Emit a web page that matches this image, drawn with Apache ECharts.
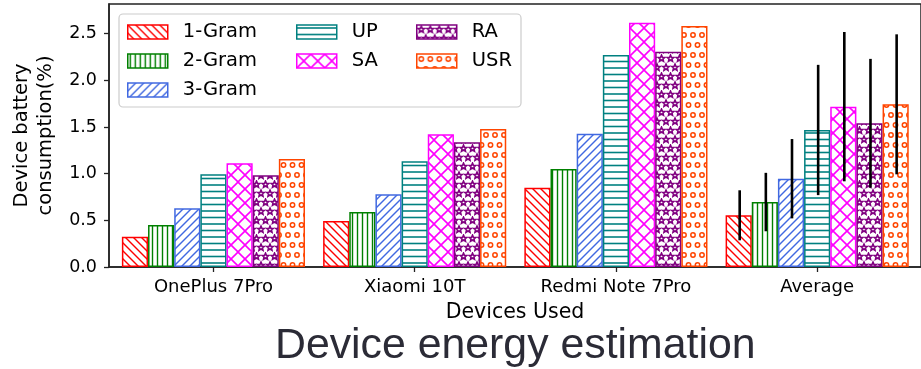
<!DOCTYPE html>
<html>
<head>
<meta charset="utf-8">
<script src="https://cdn.jsdelivr.net/npm/echarts@6/dist/echarts.min.js"></script>
<style>
  html, body { margin: 0; padding: 0; background: #fff; }
  #chart { width: 921px; height: 369px; }
</style>
</head>
<body>
<div id="chart"></div>
<script>
// Categories and methods
const devices = ['OnePlus 7Pro', 'Xiaomi 10T', 'Redmi Note 7Pro', 'Average'];
const methods = ['1-Gram', '2-Gram', '3-Gram', 'UP', 'SA', 'RA', 'USR'];

// Battery consumption (%) per device, last entry is the average
const gram1 = [0.325, 0.493, 0.85, 0.554];
const gram2 = [0.45, 0.589, 1.05, 0.696];
const gram3 = [0.629, 0.779, 1.428, 0.946];
const up    = [0.993, 1.132, 2.271, 1.468];
const sa    = [1.111, 1.422, 2.618, 1.718];
const ra    = [0.982, 1.336, 2.307, 1.54];
const usr   = [1.157, 1.479, 2.582, 1.743];

// Error bar half-lengths on the Average group, one per method
const avgErr = [0.268, 0.313, 0.425, 0.698, 0.80, 0.69, 0.75];

// Y tick labels
const yTicks = [0, 0.5, 1.0, 1.5, 2.0, 2.5];

const seriesValues = [gram1, gram2, gram3, up, sa, ra, usr];
const colors = ['#ff0000', '#008000', '#4169e1', '#008080', '#ff00ff', '#800080', '#ff4500'];
const FONT = 'DejaVu Sans';
const BAR_FRAC = 0.13;          // bar width as a fraction of the category step
const avgIndex = devices.length - 1;

// ---- hatch tiles -------------------------------------------------------
function tile(w, h, draw) {
  const c = document.createElement('canvas');
  c.width = w; c.height = h;
  const g = c.getContext('2d');
  g.fillStyle = '#fff';
  g.fillRect(0, 0, w, h);
  draw(g, w, h);
  return c;
}
function diag(g, w, h, back) {
  // one diagonal direction, including the wrap-around pieces
  for (let k = -1; k <= 1; k++) {
    g.beginPath();
    if (back) { g.moveTo(k * w - 1, -1); g.lineTo(k * w + w + 1, h + 1); }
    else      { g.moveTo(k * w - 1, h + 1); g.lineTo(k * w + w + 1, -1); }
    g.stroke();
  }
}
function star(g, cx, cy, r) {
  g.beginPath();
  for (let k = 0; k < 10; k++) {
    const rr = k % 2 ? r * 0.45 : r;
    const a = -Math.PI / 2 + k * Math.PI / 5;
    const px = cx + rr * Math.cos(a), py = cy + rr * Math.sin(a);
    k ? g.lineTo(px, py) : g.moveTo(px, py);
  }
  g.closePath();
  g.stroke();
}
function ring(g, cx, cy, r) {
  g.beginPath();
  g.arc(cx, cy, r, 0, Math.PI * 2);
  g.stroke();
}

const patterns = [
  tile(8, 8, (g, w, h) => { g.strokeStyle = colors[0]; g.lineWidth = 1.4; diag(g, w, h, true); }),
  tile(5, 5, (g, w, h) => { g.strokeStyle = colors[1]; g.lineWidth = 1.4; g.beginPath(); g.moveTo(2.5, 0); g.lineTo(2.5, h); g.stroke(); }),
  tile(8, 8, (g, w, h) => { g.strokeStyle = colors[2]; g.lineWidth = 1.4; diag(g, w, h, false); }),
  tile(13, 13, (g, w, h) => { g.strokeStyle = colors[3]; g.lineWidth = 1.6; [3, 9.5].forEach(y => { g.beginPath(); g.moveTo(0, y); g.lineTo(w, y); g.stroke(); }); }),
  tile(14, 14, (g, w, h) => { g.strokeStyle = colors[4]; g.lineWidth = 1.6; diag(g, w, h, true); diag(g, w, h, false); }),
  tile(9, 18, (g, w, h) => { g.strokeStyle = colors[5]; g.lineWidth = 1.6; star(g, 4.5, 4.5, 3.4); star(g, 0, 13.5, 3.4); star(g, 9, 13.5, 3.4); }),
  tile(9, 20, (g, w, h) => { g.strokeStyle = colors[6]; g.lineWidth = 1.5; ring(g, 4.5, 5, 2.2); ring(g, 0, 15, 2.2); ring(g, 9, 15, 2.2); })
];

// ---- series ------------------------------------------------------------
const barSeries = methods.map((name, i) => ({
  name: name,
  type: 'bar',
  barWidth: (BAR_FRAC * 100) + '%',
  barGap: '0%',
  data: seriesValues[i].map((v, j) => [j, v]),
  itemStyle: {
    color: { image: patterns[i], repeat: 'repeat' },
    borderColor: colors[i],
    borderWidth: 1.5
  },
  emphasis: { disabled: true },
  z: 2
}));

const errorSeries = {
  type: 'custom',
  name: 'error',
  silent: true,
  z: 5,
  data: methods.map((m, i) => [avgIndex, seriesValues[i][avgIndex], avgErr[i], i]),
  encode: { x: 0, y: 1 },
  renderItem(params, api) {
    const i = api.value(3);
    const x = api.value(0) + (i - (methods.length - 1) / 2) * BAR_FRAC;
    const lo = api.coord([x, api.value(1) - api.value(2)]);
    const hi = api.coord([x, api.value(1) + api.value(2)]);
    return {
      type: 'line',
      shape: { x1: lo[0] + 1, y1: lo[1], x2: hi[0] + 1, y2: hi[1] },
      style: { stroke: '#000', lineWidth: 2.6 }
    };
  }
};

const legendGroups = [methods.slice(0, 3), methods.slice(3, 5), methods.slice(5, 7)];
const legendLefts = [127, 296, 416];
const legends = legendGroups.map((group, k) => ({
  data: group,
  orient: 'vertical',
  left: legendLefts[k],
  top: 22,
  padding: 0,
  itemWidth: 40,
  itemHeight: 14,
  itemGap: 9,
  icon: 'rect',
  selectedMode: false,
  itemStyle: { borderWidth: 1.5 },
  textStyle: { fontFamily: FONT, fontSize: 19.5, color: '#000', padding: [0, 0, 0, 10] }
}));

const axisLineStyle = { color: '#222', width: 1.5 };
const tickStyle = { color: '#222', width: 1.3 };

const option = {
  animation: false,
  backgroundColor: '#fff',
  title: {
    text: 'Device energy estimation',
    left: 275,
    top: 325,
    padding: 0,
    textStyle: { fontFamily: 'Liberation Sans', fontSize: 42.8, fontWeight: 'normal', color: '#2b2b36' }
  },
  legend: legends,
  graphic: [{
    type: 'rect',
    shape: { x: 119, y: 14, width: 402, height: 93, r: 4 },
    style: { fill: 'rgba(255,255,255,0.8)', stroke: '#cccccc', lineWidth: 1.2 },
    z: -1,
    silent: true
  }],
  grid: {
    left: 109, right: -5, top: 4, bottom: 102,
    show: true, borderColor: '#222', borderWidth: 1.5
  },
  xAxis: {
    type: 'value',
    min: -0.519,
    max: 3.516,
    splitLine: { show: false },
    axisLine: { show: true, onZero: false, lineStyle: axisLineStyle },
    axisTick: { show: true, length: 5, lineStyle: tickStyle, customValues: [0, 1, 2, 3] },
    axisLabel: {
      customValues: [0, 1, 2, 3],
      formatter: v => devices[Math.round(v)],
      fontFamily: FONT, fontSize: 18, color: '#000', margin: 11
    },
    name: 'Devices Used',
    nameLocation: 'middle',
    nameGap: 35,
    nameTextStyle: { fontFamily: FONT, fontSize: 20.5, color: '#000' }
  },
  yAxis: {
    type: 'value',
    min: 0,
    max: 2.818,
    interval: 0.5,
    splitLine: { show: false },
    axisLine: { show: true, onZero: false, lineStyle: axisLineStyle },
    axisTick: { show: true, length: 5, lineStyle: tickStyle, customValues: yTicks },
    axisLabel: {
      customValues: yTicks,
      formatter: v => v.toFixed(1),
      fontFamily: FONT, fontSize: 17.5, color: '#000', margin: 12
    },
    name: 'Device battery\nconsumption(%)',
    nameLocation: 'middle',
    nameRotate: 90,
    nameGap: 42,
    nameTextStyle: { fontFamily: FONT, fontSize: 19.5, color: '#000', lineHeight: 24 }
  },
  series: barSeries.concat([errorSeries])
};

const chart = echarts.init(document.getElementById('chart'), null, { renderer: 'canvas' });
chart.setOption(option);
</script>
</body>
</html>
